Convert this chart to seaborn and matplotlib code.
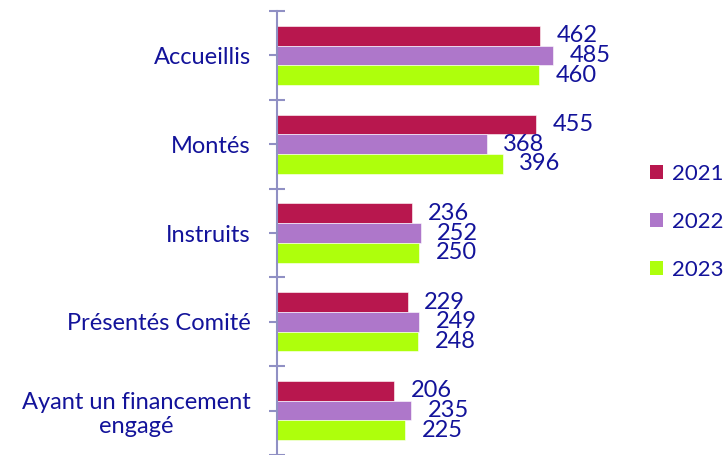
import pandas as pd
import matplotlib.pyplot as plt
import seaborn as sns
from matplotlib.patches import Patch

# data
categories = ['Accueillis', 'Montés', 'Instruits', 'Présentés Comité',
              'Ayant un financement\nengagé']
years = ['2021', '2022', '2023']
v2021 = [462, 455, 236, 229, 206]
v2022 = [485, 368, 252, 249, 235]
v2023 = [460, 396, 250, 248, 225]
colors = ['#B8174E', '#AE77CA', '#AEFF0C']
text_col = '#13139A'

df = pd.DataFrame({'cat': categories * 3,
                   'year': [y for y in years for _ in categories],
                   'val': v2021 + v2022 + v2023})

sns.set_style('white')
plt.rcParams['font.family'] = ['Lato', 'DejaVu Sans']

fig = plt.figure(figsize=(7.26, 4.55), dpi=100)
ax = fig.add_axes([277 / 726, 0, 338 / 726, 444 / 455])

sns.barplot(data=df, y='cat', x='val', hue='year', palette=colors,
            orient='h', width=0.667, saturation=1, edgecolor='white',
            linewidth=0.4, legend=False, ax=ax)

for cont in ax.containers:
    ax.bar_label(cont, padding=12, fontsize=17, color=text_col)

ax.set_xlim(0, 593)
ax.set_ylim(4.44, -0.5)
ax.set_xlabel('')
ax.set_ylabel('')

for s in ['top', 'right', 'bottom']:
    ax.spines[s].set_visible(False)
ax.spines['left'].set_color('#9090C4')
ax.spines['left'].set_linewidth(1.5)
ax.set_xticks([])

# category labels at centres, ticks at centres and boundaries
ax.set_yticks(range(len(categories)))
ax.set_yticklabels(categories, fontsize=17, color=text_col,
                   multialignment='center')
ax.set_yticks([i - 0.5 for i in range(len(categories) + 1)], minor=True)
ax.tick_params(axis='y', which='both', left=True, direction='inout',
               length=12, width=1.5, color='#9090C4', pad=13)

handles = [Patch(facecolor=c, edgecolor='none') for c in colors]
fig.legend(handles, years, loc='center left',
           bbox_to_anchor=(650 / 726, 1 - 222 / 455), frameon=False,
           fontsize=16, labelcolor=text_col, handlelength=0.58,
           handleheight=0.58, labelspacing=1.25, handletextpad=0.4,
           borderpad=0, borderaxespad=0)

fig.savefig('out.png', dpi=100)
